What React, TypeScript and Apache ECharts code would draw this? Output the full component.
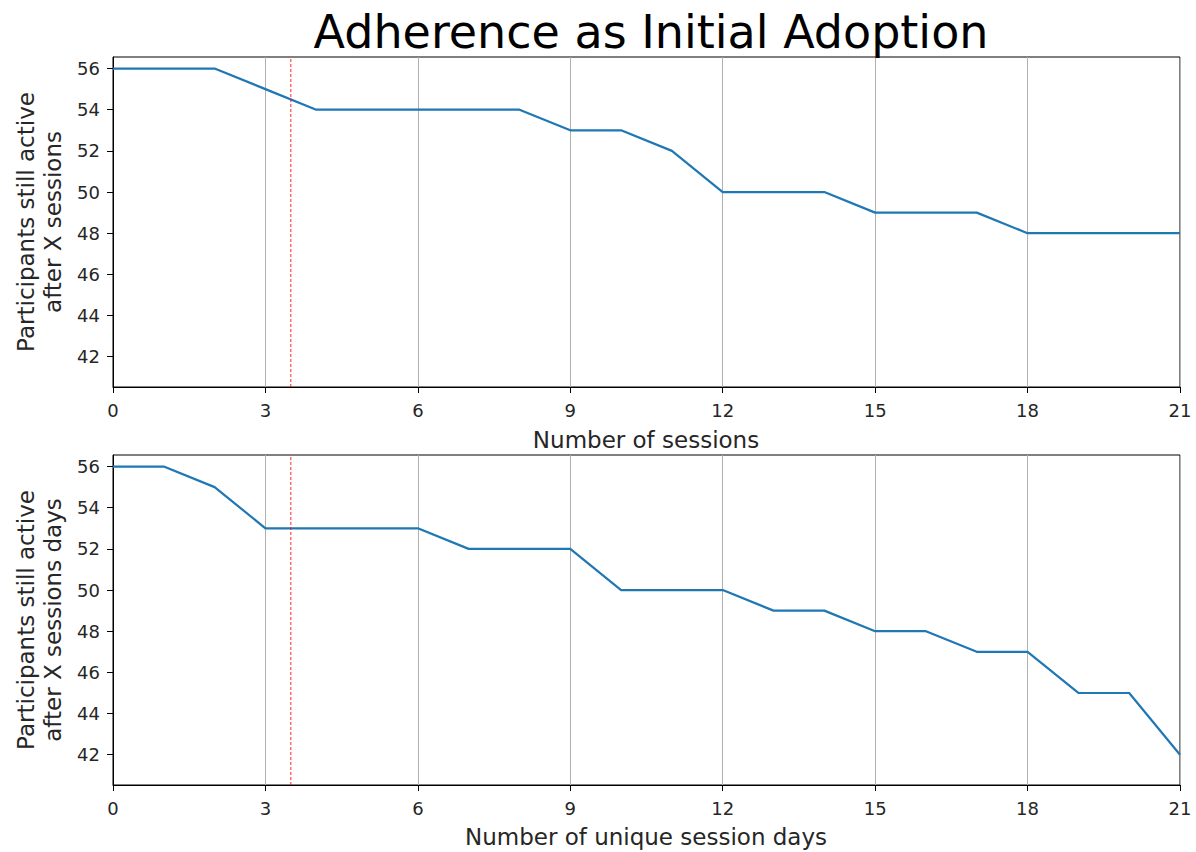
import React, { useEffect, useRef } from "react";
import * as echarts from "echarts";

const sessions = [0, 1, 2, 3, 4, 5, 6, 7, 8, 9, 10, 11, 12, 13, 14, 15, 16, 17, 18, 19, 20, 21];
const activeAfterSessions = [56, 56, 56, 55, 54, 54, 54, 54, 54, 53, 53, 52, 50, 50, 50, 49, 49, 49, 48, 48, 48, 48];
const activeAfterDays = [56, 56, 55, 53, 53, 53, 53, 52, 52, 52, 50, 50, 50, 49, 49, 48, 48, 47, 47, 45, 45, 42];
const yTicks = [42, 44, 46, 48, 50, 52, 54, 56];
const cutoff = 3.5;
const yMin = 40.53;
const yMax = 56.56;

const FONT = "DejaVu Sans";

export default function App() {
  const ref = useRef<HTMLDivElement>(null);
  useEffect(() => {
    if (!ref.current) return;
    const chart = echarts.init(ref.current, undefined, { renderer: "svg" });
    const grids = [
      { left: 113, top: 57, width: 1067, height: 330 },
      { left: 113, top: 455, width: 1067, height: 330 },
    ];
    const mkX = (gi: number) => ({
      type: "value",
      gridIndex: gi,
      min: 0,
      max: 21,
      interval: 3,
      axisLine: { show: true, onZero: false, lineStyle: { color: "#000", width: 1 } },
      axisTick: { show: true, length: 6, lineStyle: { color: "#000" } },
      axisLabel: { color: "#262626", fontSize: 18, fontFamily: FONT, margin: 14 },
      splitLine: { show: true, lineStyle: { color: "#b0b0b0", width: 1 } },
    });
    const mkY = (gi: number) => ({
      type: "value",
      gridIndex: gi,
      min: yMin,
      max: yMax,
      axisLine: { show: true, lineStyle: { color: "#000", width: 1 } },
      axisTick: { show: true, length: 6, customValues: yTicks, lineStyle: { color: "#000" } },
      axisLabel: { color: "#262626", fontSize: 18, fontFamily: FONT, margin: 13, customValues: yTicks },
      splitLine: { show: false },
    });
    const mkSeries = (gi: number, vals: number[]) => ({
      type: "line",
      xAxisIndex: gi,
      yAxisIndex: gi,
      data: sessions.map((x, i) => [x, vals[i]]),
      showSymbol: false,
      symbol: "none",
      z: 3,
      lineStyle: { color: "#1f77b4", width: 2.2 },
      itemStyle: { color: "#1f77b4" },
    });
    const mkCutoff = (gi: number) => ({
      type: "line",
      xAxisIndex: gi,
      yAxisIndex: gi,
      data: [
        [cutoff, yMin],
        [cutoff, yMax],
      ],
      showSymbol: false,
      symbol: "none",
      silent: true,
      z: 4,
      lineStyle: { color: "#ff0000", type: [3, 2], width: 1, opacity: 0.85 },
      itemStyle: { color: "#ff0000" },
    });
    chart.setOption({
      animation: false,
      backgroundColor: "#fff",
      title: {
        text: "Adherence as Initial Adoption",
        left: 646,
        top: 4,
        textAlign: "center",
        textStyle: { fontFamily: FONT, fontSize: 46, fontWeight: "normal", color: "#000" },
      },
      grid: grids.map((g) => ({ ...g, show: true, borderColor: "#000", borderWidth: 1, backgroundColor: "transparent" })),
      xAxis: [mkX(0), mkX(1)],
      yAxis: [mkY(0), mkY(1)],
      series: [
        mkSeries(0, activeAfterSessions),
        mkCutoff(0),
        mkSeries(1, activeAfterDays),
        mkCutoff(1),
      ],
      graphic: [
        {
          type: "text",
          x: 39,
          y: 222,
          rotation: Math.PI / 2,
          style: {
            text: "Participants still active\nafter X sessions",
            fontFamily: FONT,
            fontSize: 23,
            fill: "#262626",
            align: "center",
            verticalAlign: "middle",
            lineHeight: 27,
          },
        },
        {
          type: "text",
          x: 39,
          y: 620,
          rotation: Math.PI / 2,
          style: {
            text: "Participants still active\nafter X sessions days",
            fontFamily: FONT,
            fontSize: 23,
            fill: "#262626",
            align: "center",
            verticalAlign: "middle",
            lineHeight: 27,
          },
        },
        {
          type: "text",
          x: 646,
          y: 440,
          style: {
            text: "Number of sessions",
            fontFamily: FONT,
            fontSize: 23,
            fill: "#262626",
            align: "center",
            verticalAlign: "middle",
          },
        },
        {
          type: "text",
          x: 646,
          y: 837,
          style: {
            text: "Number of unique session days",
            fontFamily: FONT,
            fontSize: 23,
            fill: "#262626",
            align: "center",
            verticalAlign: "middle",
          },
        },
      ],
    });
    return () => chart.dispose();
  }, []);
  return <div ref={ref} style={{ position: "fixed", left: 0, top: 0, width: 1196, height: 852 }} />;
}
